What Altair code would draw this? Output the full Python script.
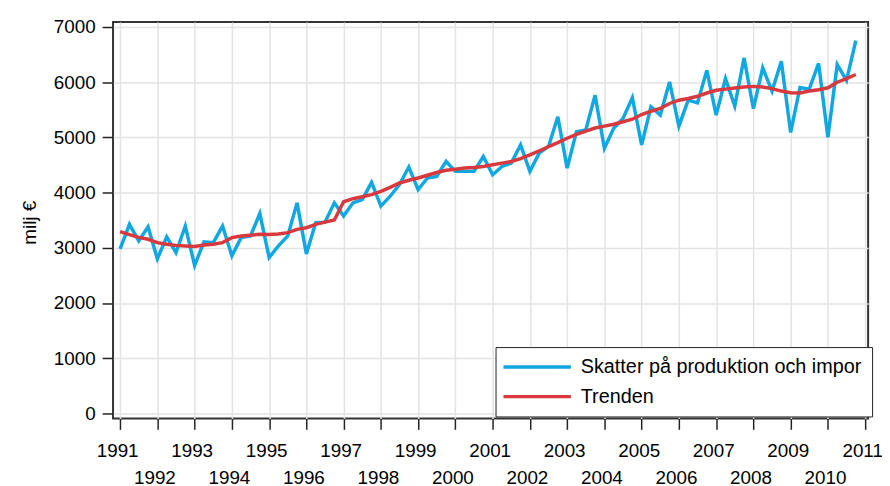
import altair as alt
import pandas as pd

years = list(range(1991, 2011))
quarters = [1, 2, 3, 4]

series_name = "Skatter på produktion och impor"
trend_name = "Trenden"

skatter = [
    2980, 3425, 3125, 3380,
    2800, 3200, 2915, 3395,
    2680, 3110, 3095, 3395,
    2855, 3185, 3215, 3620,
    2825, 3035, 3215, 3815,
    2890, 3455, 3465, 3815,
    3575, 3815, 3875, 4185,
    3755, 3935, 4145, 4465,
    4055, 4265, 4295, 4565,
    4385, 4385, 4385, 4655,
    4325, 4475, 4535, 4865,
    4385, 4715, 4835, 5375,
    4445, 5105, 5135, 5765,
    4805, 5165, 5345, 5720,
    4865, 5555, 5405, 6005,
    5205, 5675, 5625, 6215,
    5405, 6065, 5570, 6440,
    5520, 6260, 5840, 6380,
    5090, 5905, 5875, 6340,
    5005, 6320, 6035, 6755,
]

trend = [
    3295, 3240, 3190, 3155,
    3095, 3065, 3045, 3035,
    3025, 3050, 3065, 3095,
    3185, 3215, 3230, 3245,
    3240, 3250, 3275, 3335,
    3365, 3425, 3465, 3505,
    3835, 3890, 3925, 3965,
    4025, 4095, 4175, 4225,
    4265, 4315, 4365, 4405,
    4425, 4445, 4455, 4475,
    4505, 4535, 4565, 4615,
    4685, 4755, 4835, 4905,
    4985, 5055, 5115, 5170,
    5205, 5240, 5285, 5330,
    5415, 5475, 5525, 5615,
    5675, 5705, 5745, 5805,
    5855, 5875, 5895, 5915,
    5925, 5915, 5885, 5840,
    5810, 5805, 5840, 5865,
    5900, 6000, 6065, 6140,
]

year_ticks = list(range(1991, 2012))
y_ticks = [0, 1000, 2000, 3000, 4000, 5000, 6000, 7000]

t = [y + (q - 1) / 4 for y in years for q in quarters]
df = pd.concat([
    pd.DataFrame({"t": t, "v": skatter, "serie": series_name}),
    pd.DataFrame({"t": t, "v": trend, "serie": trend_name}),
])

FONT = "Liberation Sans"

color = alt.Color(
    "serie:N",
    scale=alt.Scale(domain=[series_name, trend_name], range=["#10a7e3", "#d9393d"]),
    legend=alt.Legend(
        title=None,
        orient="none",
        legendX=386,
        legendY=328,
        symbolType="M-17,0H17",
        symbolSize=16,
        symbolOffset=22,
        symbolStrokeWidth=3.5,
        labelFontSize=20,
        labelFont=FONT,
        labelColor="#000000",
        labelLimit=400,
        labelOffset=34,
        padding=10,
        rowPadding=10,
        strokeColor="#222222",
        fillColor="#ffffff",
    ),
)

x = alt.X(
    "t:Q",
    title=None,
    scale=alt.Scale(domain=[1990.81, 2011.08], nice=False, zero=False),
    axis=alt.Axis(
        values=year_ticks,
        format="d",
        labelExpr="datum.value % 2 == 1 ? [datum.label] : ['', datum.label]",
        labelOverlap=False,
        labelFlush=False,
        labelFontSize=19,
        labelFont=FONT,
        labelColor="#000000",
        labelLineHeight=28,
        labelPadding=12,
        labelOffset=-3,
        tickSize=11,
        tickColor="#222222",
        tickWidth=1.5,
        grid=True,
        gridColor="#e3e3e3",
        gridWidth=1.5,
        domain=False,
    ),
)

y = alt.Y(
    "v:Q",
    scale=alt.Scale(domain=[-90, 7090], nice=False, zero=False),
    axis=alt.Axis(
        values=y_ticks,
        format="d",
        title="milj €",
        titleFontSize=19,
        titleFont=FONT,
        titleFontWeight="normal",
        titleColor="#000000",
        titleAngle=270,
        titleX=-84,
        titleY=202,
        titleAlign="center",
        titleBaseline="middle",
        labelFontSize=19,
        labelFont=FONT,
        labelColor="#000000",
        labelPadding=7,
        tickSize=11,
        tickColor="#222222",
        tickWidth=1.5,
        grid=True,
        gridColor="#e3e3e3",
        gridWidth=1.5,
        domain=False,
    ),
)

blue = alt.Chart(df).transform_filter(alt.datum.serie == series_name).mark_line(
    strokeWidth=3.5
).encode(x=x, y=y, color=color)

red = alt.Chart(df).transform_filter(alt.datum.serie == trend_name).mark_line(
    strokeWidth=3.5
).encode(x=x, y=y, color=color)

chart = alt.layer(blue, red).properties(
    width=762,
    height=400,
    autosize=alt.AutoSizeParams(type="none"),
    padding={"left": 106, "top": 12, "right": 14, "bottom": 66},
).configure_view(
    stroke="#333333",
    strokeWidth=2,
)

chart.save("out.html", embed_options={"renderer": "svg", "actions": False})
